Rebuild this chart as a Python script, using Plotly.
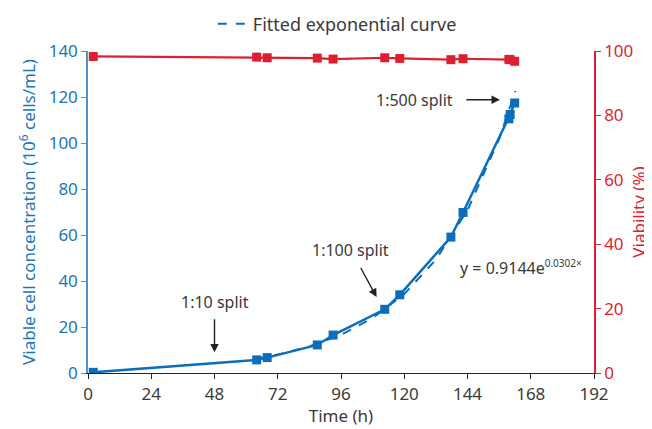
import plotly.graph_objects as go

# Data
time_h = [2, 64, 68, 87, 93, 112.6, 118.3, 137.7, 142.3, 159.7, 160.2, 161.9]
viable_conc = [0.3, 5.7, 6.7, 12.2, 16.5, 27.7, 34.0, 59.1, 69.8, 110.5, 112.4, 117.4]
viability_pct = [98.3, 98.1, 97.9, 97.8, 97.5, 97.9, 97.7, 97.3, 97.6, 97.4, 97.3, 96.8]
fit_time = [64, 72, 84, 96, 108, 120, 132, 144, 156, 162.2]
fit_conc = [6.3, 8.0, 11.6, 16.6, 23.9, 34.3, 49.3, 70.8, 101.7, 122.6]
x_ticks = [0, 24, 48, 72, 96, 120, 144, 168, 192]
left_ticks = [0, 20, 40, 60, 80, 100, 120, 140]
right_ticks = [0, 20, 40, 60, 80, 100]

BLUE = "#0a6ebd"
BLUE_TXT = "#1b75bb"
BLUE_AX = "#4d94cc"
RED = "#dc1f33"
GREY = "#3a3a3a"
FONT = "Noto Sans"

fig = go.Figure()

fig.add_trace(go.Scatter(
    x=fit_time, y=fit_conc, mode="lines", name="Fitted exponential curve",
    line=dict(color=BLUE, width=2, dash="dash"), showlegend=True))

fig.add_trace(go.Scatter(
    x=time_h, y=viable_conc, mode="lines+markers", showlegend=False,
    line=dict(color=BLUE, width=2.5),
    marker=dict(symbol="square", size=9, color=BLUE)))

fig.add_trace(go.Scatter(
    x=time_h, y=viability_pct, mode="lines+markers", showlegend=False, yaxis="y2",
    line=dict(color=RED, width=2.2),
    marker=dict(symbol="square", size=9, color=RED)))

annots = []
for txt, x, y in [("1:10 split", 48, 31), ("1:100 split", 99.5, 53.5), ("1:500 split", 124, 118.8)]:
    annots.append(dict(x=x, y=y, xref="x", yref="y", text=txt, showarrow=False,
                       font=dict(family=FONT, size=16, color=GREY)))
for hx, hy, tx, ty in [(48, 9.0, 48, 24.0), (109.5, 33.0, 103.2, 46.3), (156.3, 118.8, 143, 118.8)]:
    annots.append(dict(x=hx, y=hy, ax=tx, ay=ty, xref="x", yref="y", axref="x", ayref="y",
                       text="", showarrow=True, arrowhead=2, arrowsize=1.2, arrowwidth=1.4,
                       arrowcolor="#222222"))
annots.append(dict(x=140.5, y=45.7, xref="x", yref="y", xanchor="left",
                   text="y = 0.9144e<sup><span style='font-size:10px'>0.0302×</span></sup>",
                   showarrow=False, font=dict(family=FONT, size=16, color=GREY)))

fig.update_layout(
    width=644, height=421,
    margin=dict(l=80, r=58, t=43, b=56, autoexpand=False),
    paper_bgcolor="white", plot_bgcolor="white",
    font=dict(family=FONT, size=17, color=GREY),
    annotations=annots,
    legend=dict(orientation="h", xref="container", yref="container",
                x=0.318, y=0.962, xanchor="left", yanchor="middle",
                font=dict(family=FONT, size=18, color=GREY), bgcolor="rgba(0,0,0,0)"),
    xaxis=dict(range=[0, 192], tickvals=x_ticks, ticks="outside", ticklen=5,
               tickcolor="#222", showline=True, linecolor="#222", linewidth=1.2,
               showgrid=False, zeroline=False, automargin=False,
               tickfont=dict(family=FONT, size=17, color=GREY),
               title=dict(text="Time (h)", font=dict(family=FONT, size=17, color=GREY), standoff=6)),
    yaxis=dict(range=[0, 140], tickvals=left_ticks, ticks="outside", ticklen=5,
               tickcolor=BLUE_AX, showline=True, linecolor=BLUE_AX, linewidth=1.5,
               showgrid=False, zeroline=False, automargin=False,
               tickfont=dict(family=FONT, size=17, color=BLUE_TXT),
               title=dict(text="Viable cell concentration (10<sup>6</sup> cells/mL)",
                          font=dict(family=FONT, size=17, color=BLUE_TXT), standoff=9)),
    yaxis2=dict(range=[0, 100], tickvals=right_ticks, ticks="outside", ticklen=5,
                tickcolor=RED, showline=True, linecolor=RED, linewidth=1.5,
                overlaying="y", side="right", showgrid=False, zeroline=False, automargin=False,
                tickfont=dict(family=FONT, size=17, color=RED),
                title=dict(text="Viability (%)", font=dict(family=FONT, size=17, color=RED), standoff=1)),
)

fig.write_html("out.html")
